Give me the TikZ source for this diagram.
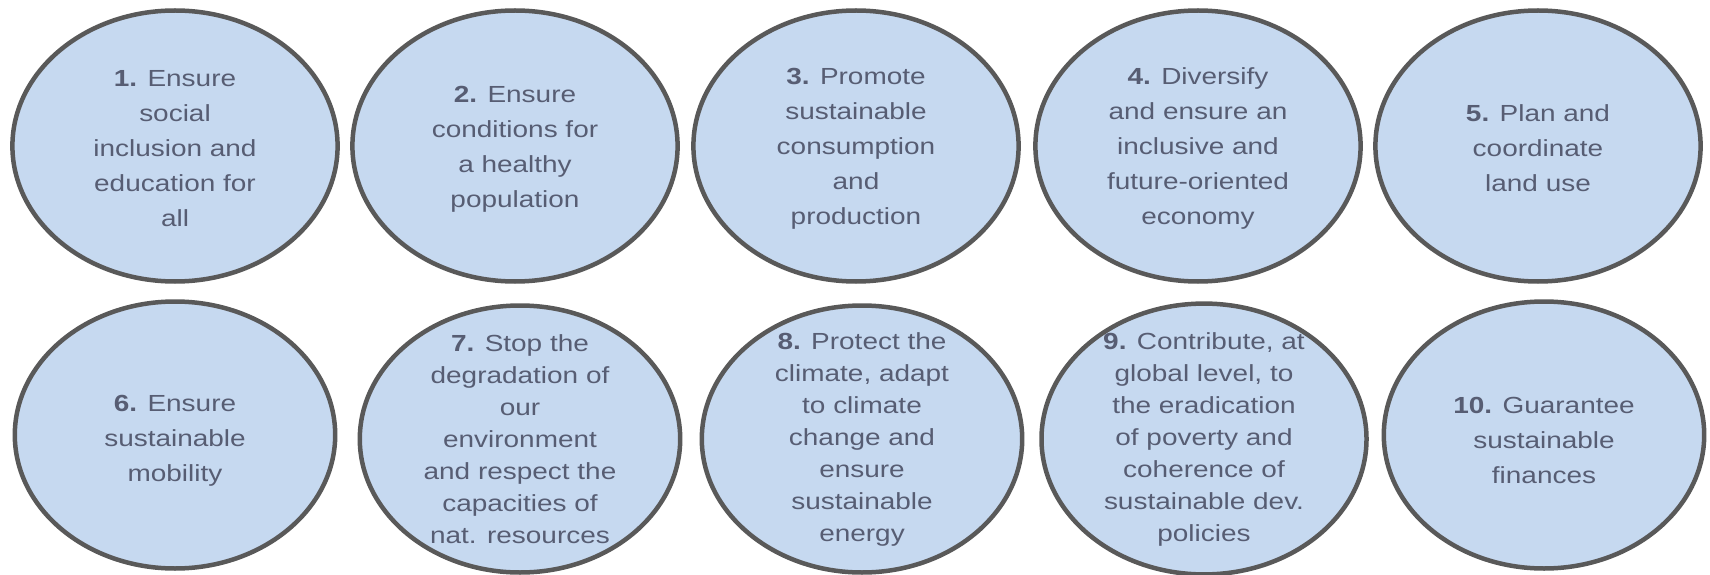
\documentclass[tikz,border=0pt]{standalone}
\usepackage{fontspec}
\setmainfont{Liberation Sans}
\definecolor{goalfill}{HTML}{C6D9F0}
\definecolor{goalline}{HTML}{595959}
\definecolor{goaltext}{HTML}{575D73}
\begin{document}
\begin{tikzpicture}[x=1pt,y=1pt,
  goal/.style={circle, draw=goalline, fill=goalfill, line width=4.5pt,
    minimum size=271pt, inner sep=0pt, xscale=1.2, align=center,
    text=goaltext, font=\fontsize{23.3}{35}\selectfont},
  goallow/.style={goal, minimum size=267pt},
  dense/.style={font=\fontsize{23.3}{32}\selectfont}]
\useasboundingbox (0,0) rectangle (1710,574);
\node[goal] (g1) at (175,428) {\rule{0pt}{22pt}\textbf{1.} Ensure\\social\\inclusion and\\education for\\all};
\node[goal] (g2) at (515,428) {\rule{0pt}{22pt}\textbf{2.} Ensure\\conditions for\\a healthy\\population};
\node[goal] (g3) at (856,428) {\rule{0pt}{22pt}\textbf{3.} Promote\\sustainable\\consumption\\and\\production};
\node[goal] (g4) at (1198,428) {\rule{0pt}{22pt}\textbf{4.} Diversify\\and ensure an\\inclusive and\\future-oriented\\economy};
\node[goal] (g5) at (1538,428) {\rule{0pt}{22pt}\textbf{5.} Plan and\\coordinate\\land use};
\node[goallow] (g6) at (175,139) {\rule{0pt}{28pt}\textbf{6.} Ensure\\sustainable\\mobility};
\node[goallow, dense] (g7) at (520,135) {\textbf{7.} Stop the\\degradation of\\our\\environment\\and respect the\\capacities of\\nat. resources};
\node[goallow, dense] (g8) at (862,135) {\textbf{8.} Protect the\\climate, adapt\\to climate\\change and\\ensure\\sustainable\\energy};
\node[goallow, dense] (g9) at (1204,135) {\textbf{9.} Contribute, at\\global level, to\\the eradication\\of poverty and\\coherence of\\sustainable dev.\\policies};
\node[goallow] (g10) at (1544,139) {\rule{0pt}{28pt}\textbf{10.} Guarantee\\sustainable\\finances};
\end{tikzpicture}
\end{document}
